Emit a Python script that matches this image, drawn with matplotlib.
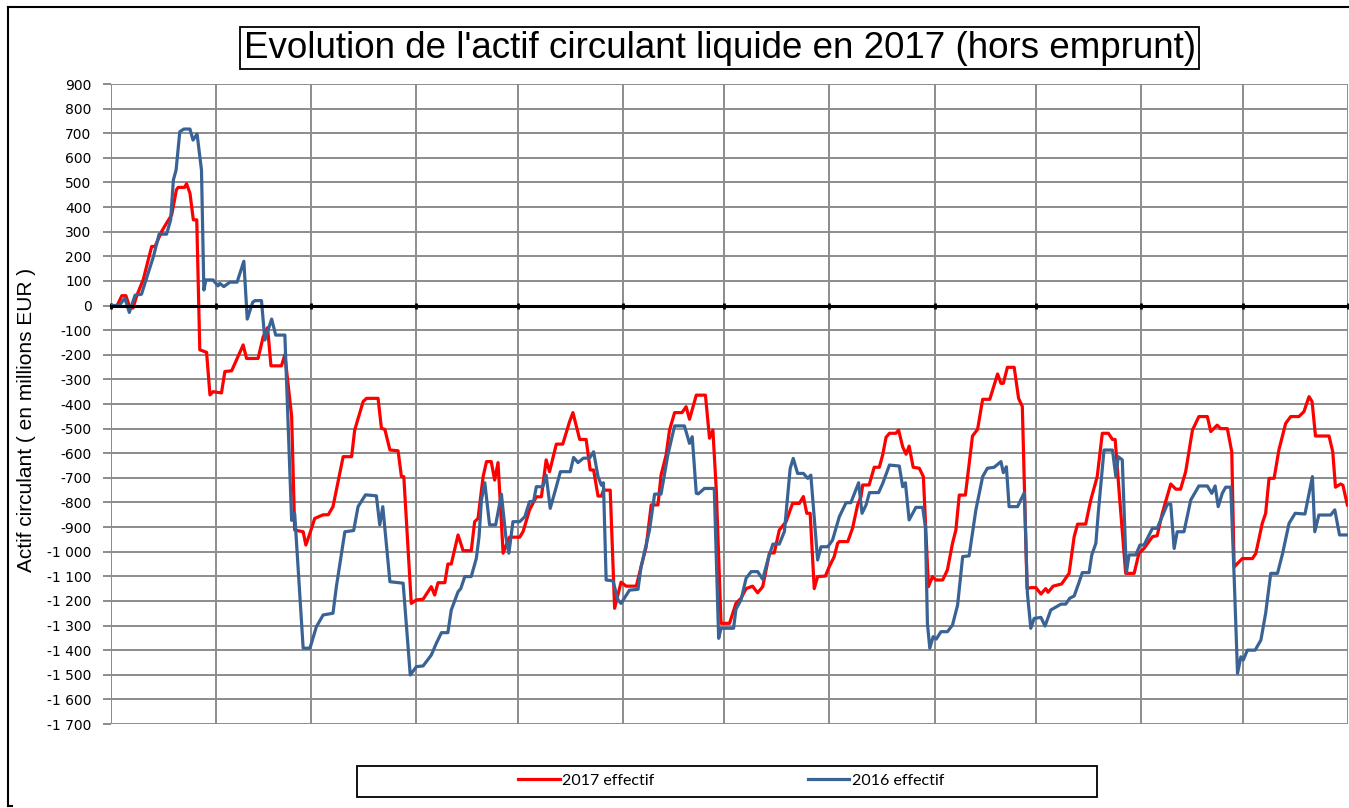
import matplotlib
matplotlib.use("Agg")
import matplotlib.pyplot as plt
from matplotlib.patches import Rectangle
from matplotlib.ticker import FuncFormatter

# ---- data (day of year, value in millions EUR) ----
red_day = [0, 1.8, 3.2, 4.4, 5.6, 6.5, 7.6, 9.5, 12.0, 13.0, 14.9, 16.4, 17.9, 19.3, 19.8, 21.7, 22.3, 23.3,
           24.3, 25.3, 26.2, 28.2, 29.2, 30.1, 32.6, 33.6, 35.6, 39.0, 40.0, 43.4, 44.9, 46.2, 47.2, 50.3,
           51.3, 53.3, 54.2, 56.7, 57.5, 58.7, 60.1, 62.6, 64.1, 65.5, 68.5, 71.0, 71.9, 74.4, 75.4, 78.8,
           79.8, 80.8, 82.3, 84.7, 85.7, 86.4, 88.6, 90.1, 92.1, 94.5, 95.5, 96.5, 98.5, 99.4, 100.4, 102.4,
           103.9, 106.3, 107.3, 108.3, 109.8, 110.8, 112.2, 113.2, 114.2, 115.7, 116.7, 117.6, 120.6, 121.6,
           123.5, 125.5, 127.0, 128.4, 129.4, 131.4, 133.3, 135.3, 136.3, 138.3, 140.2, 141.4, 142.4, 143.7,
           144.7, 145.3, 147.3, 148.6, 149.5, 150.5, 152.0, 155.0, 156.4, 157.9, 159.4, 161.4, 162.3, 163.8,
           164.8, 166.3, 168.5, 169.7, 170.7, 172.7, 175.4, 176.6, 177.6, 178.6, 180.0, 182.5, 184.4, 185.9,
           187.4, 189.3, 190.8, 192.3, 194.3, 195.7, 197.2, 199.2, 201.1, 203.1, 204.3, 205.3, 206.3, 207.5,
           208.5, 210.8, 211.9, 213.4, 214.4, 214.9, 217.4, 218.8, 220.3, 221.3, 221.8, 223.7, 225.2, 226.7,
           227.7, 228.7, 229.7, 231.6, 232.4, 233.6, 234.6, 235.5, 236.7, 238.5, 239.7, 241.2, 242.4, 243.4,
           245.4, 246.8, 248.3, 249.3, 250.3, 252.1, 254.2, 255.7, 257.2, 259.3, 261.6, 262.6, 263.3, 264.5,
           266.5, 267.8, 268.9, 270.3, 271.4, 272.9, 274.4, 275.8, 276.5, 278.0, 280.5, 282.7, 284.2, 285.2,
           287.6, 289.1, 291.0, 292.5, 294.3, 295.5, 296.3, 297.5, 299.4, 301.9, 303.3, 304.8, 307.3, 308.7,
           310.2, 312.7, 314.2, 315.6, 317.1, 319.1, 321.0, 323.5, 324.5, 326.4, 327.4, 329.4, 330.7, 331.4,
           333.8, 336.8, 337.8, 339.7, 340.7, 341.7, 343.2, 344.6, 346.6, 348.1, 350.5, 352.0, 353.5, 354.4,
           355.4, 359.4, 360.5, 361.3, 362.8, 363.5, 364.8]
red_val = [0, 0, 40, 40, -10, -10, 40, 105, 240, 240, 300, 335, 368, 470, 480, 480, 495, 456,
           348, 348, -180, -190, -363, -350, -355, -268, -265, -160, -215, -215, -127, -90, -245, -245,
           -200, -450, -912, -919, -973, -925, -865, -850, -850, -817, -614, -614, -506, -390, -377, -377,
           -499, -503, -587, -590, -695, -695, -1210, -1196, -1193, -1142, -1176, -1126, -1126, -1050, -1050, -932,
           -996, -996, -878, -865, -695, -634, -634, -709, -638, -1006, -970, -941, -941, -918,
           -830, -777, -777, -627, -675, -563, -563, -472, -435, -544, -544, -668, -668, -774,
           -774, -750, -750, -1230, -1180, -1124, -1140, -1140, -1062, -981, -810, -810, -689, -607,
           -506, -435, -435, -411, -462, -364, -364, -539, -506, -750, -1291, -1291, -1210, -1189,
           -1150, -1140, -1167, -1142, -1005, -1005, -912, -878, -804, -804, -776, -844, -844, -1150,
           -1101, -1099, -1062, -1020, -966, -959, -959, -905, -810, -777, -729, -729, -657, -657,
           -607, -535, -519, -519, -506, -574, -604, -571, -657, -661, -695, -1142, -1101, -1115,
           -1115, -1074, -966, -912, -770, -770, -530, -503, -381, -381, -278, -316, -316, -251,
           -251, -377, -410, -1150, -1146, -1146, -1172, -1150, -1165, -1140, -1131, -1088, -939, -888,
           -888, -790, -695, -519, -519, -544, -544, -763, -1088, -1088, -1007, -987, -939, -935,
           -844, -725, -746, -746, -675, -506, -451, -451, -512, -486, -500, -500, -594, -1062,
           -1028, -1028, -1007, -885, -844, -702, -702, -587, -479, -451, -451, -431, -370, -390,
           -530, -530, -594, -738, -725, -730, -810]

blue_day = [0, 2.4, 4.1, 5.4, 7.1, 9.0, 10.0, 12.5, 14.2, 16.4, 17.6, 18.4, 19.2, 20.3, 21.5, 23.3, 24.2,
            25.4, 26.7, 27.4, 28.0, 30.1, 31.6, 32.1, 33.3, 35.1, 37.2, 39.2, 40.2, 41.8, 42.5, 44.4, 45.4,
            47.4, 48.6, 51.3, 53.3, 54.2, 56.7, 58.7, 60.6, 62.6, 65.5, 66.5, 69.0, 71.6, 72.9, 75.1, 78.3,
            79.3, 80.2, 82.3, 86.2, 88.3, 90.1, 92.1, 94.5, 96.0, 97.5, 99.4, 100.4, 102.4, 103.2, 104.4,
            106.3, 107.8, 108.6, 109.3, 110.3, 111.7, 113.5, 115.2, 116.5, 117.4, 118.6, 120.6, 122.1, 123.5,
            124.7, 125.5, 127.4, 128.4, 129.6, 131.4, 132.6, 135.5, 136.5, 137.8, 139.4, 141.2, 142.4, 143.7,
            144.7, 145.3, 146.1, 148.1, 149.6, 150.5, 153.0, 155.5, 156.4, 158.9, 160.4, 162.3, 164.3, 166.3,
            169.2, 170.7, 171.5, 172.7, 173.3, 175.1, 178.0, 179.3, 180.0, 183.7, 184.4, 185.9, 187.4, 188.9,
            190.8, 192.3, 193.8, 195.3, 197.2, 198.7, 200.4, 201.3, 202.6, 204.3, 205.6, 206.5, 208.5, 209.5,
            211.5, 212.9, 214.9, 216.9, 218.3, 220.6, 221.6, 222.8, 223.8, 226.5, 227.7, 229.7, 232.6, 233.6,
            234.4, 235.5, 237.5, 239.5, 240.3, 240.9, 241.6, 242.6, 243.5, 244.9, 246.8, 248.3, 249.8, 251.3,
            253.2, 255.2, 257.2, 258.6, 260.6, 262.6, 263.3, 264.2, 265.0, 267.5, 269.5, 270.4, 271.4, 272.4,
            274.4, 275.6, 277.3, 280.3, 281.7, 282.9, 284.2, 285.7, 286.6, 288.6, 289.4, 290.6, 291.3, 293.0,
            295.5, 296.5, 297.2, 298.4, 299.6, 300.4, 302.4, 303.6, 304.8, 307.3, 308.7, 311.7, 312.7, 313.7,
            314.6, 316.6, 318.6, 321.0, 323.5, 324.8, 325.8, 326.7, 327.9, 328.9, 330.4, 331.4, 332.4, 333.4,
            334.1, 335.3, 337.6, 339.3, 340.7, 342.2, 344.2, 345.7, 347.6, 349.4, 352.3, 354.5, 355.2, 356.4,
            359.9, 361.1, 362.5, 365.0]
blue_val = [0, 0, 30, -28, 42, 46, 90, 198, 290, 290, 348, 510, 550, 706, 717, 717, 672,
            697, 550, 63, 104, 104, 80, 90, 77, 95, 95, 180, -55, 13, 20, 20, -140,
            -55, -120, -120, -873, -845, -1392, -1392, -1305, -1257, -1250, -1142, -919, -914, -817, -769, -773,
            -891, -817, -1122, -1128, -1501, -1467, -1464, -1420, -1372, -1329, -1329, -1237, -1163, -1150, -1101,
            -1101, -1027, -939, -790, -720, -891, -891, -766, -939, -1006, -878, -878, -858, -797,
            -795, -736, -736, -689, -824, -736, -675, -675, -617, -638, -620, -620, -594, -695,
            -730, -720, -1115, -1118, -1196, -1210, -1156, -1153, -1062, -912, -766, -766, -607, -489,
            -489, -560, -533, -763, -765, -743, -743, -1352, -1311, -1311, -1234, -1196, -1108, -1081,
            -1081, -1112, -1034, -969, -969, -918, -662, -621, -682, -682, -702, -689, -1034, -980,
            -980, -953, -858, -801, -801, -720, -844, -810, -760, -760, -723, -648, -652, -736,
            -720, -871, -820, -820, -900, -1291, -1392, -1345, -1355, -1325, -1325, -1298, -1217, -1020,
            -1017, -830, -695, -661, -657, -634, -679, -655, -817, -817, -760, -1169, -1311, -1271,
            -1267, -1302, -1237, -1213, -1213, -1189, -1180, -1122, -1085, -1085, -1013, -966, -844, -587,
            -587, -695, -614, -627, -1085, -1013, -1013, -973, -973, -905, -905, -807, -807, -987,
            -919, -919, -790, -733, -733, -763, -733, -817, -763, -738, -738, -1100, -1494, -1427,
            -1440, -1400, -1400, -1359, -1250, -1088, -1088, -1007, -885, -844, -847, -695, -919, -851,
            -851, -830, -932, -932]

month_edges = [0, 31, 59, 90, 120, 151, 181, 212, 243, 273, 304, 334, 365]
y_ticks = list(range(-1700, 901, 100))

title = "Evolution de l'actif circulant liquide en 2017 (hors emprunt)"
y_label = "Actif circulant ( en millions EUR )"
labels = ["2017 effectif", "2016 effectif"]
colors = ["#FF0000", "#3A6395"]

# ---- figure ----
W, H = 1349, 808
fig = plt.figure(figsize=(W / 100, H / 100), dpi=100)
fig.patch.set_facecolor("white")

# outer frame (left, top, bottom)
fig.add_artist(plt.Line2D([7.5 / W, 7.5 / W], [1 - 6.5 / H, 1 - 806 / H], color="black", lw=1.5,
                          transform=fig.transFigure))
fig.add_artist(plt.Line2D([7.5 / W, 1.0], [1 - 6.5 / H, 1 - 6.5 / H], color="black", lw=1.5,
                          transform=fig.transFigure))
fig.add_artist(plt.Line2D([7.5 / W, 12 / W], [1 - 806 / H, 1 - 806 / H], color="black", lw=1.5,
                          transform=fig.transFigure))

ax = fig.add_axes([111 / W, 1 - 724 / H, 1237 / W, 640 / H])
ax.set_xlim(0, 365)
ax.set_ylim(-1700, 900)

ax.set_xticks(month_edges)
ax.set_xticklabels([])
ax.set_yticks(y_ticks)


def fmt(v, pos):
    v = int(round(v))
    s = f"{abs(v):,}".replace(",", " ")
    return ("-" if v < 0 else "") + s


ax.yaxis.set_major_formatter(FuncFormatter(fmt))
ax.grid(True, color="#8C8C8C", lw=1.4)
ax.set_axisbelow(True)
for s in ["top", "right", "left"]:
    ax.spines[s].set_visible(False)
ax.spines["bottom"].set_position(("data", 0))
ax.spines["bottom"].set_color("black")
ax.spines["bottom"].set_linewidth(2.2)
ax.spines["bottom"].set_zorder(5)
ax.tick_params(axis="x", direction="inout", length=4, width=2, color="black")
ax.tick_params(axis="y", direction="out", length=6, width=1.4, color="#8C8C8C",
               labelsize=10, pad=8)
for lbl in ax.get_yticklabels():
    lbl.set_fontfamily("DejaVu Sans")
ax.axvline(0, color="#8C8C8C", lw=1.4, zorder=0.5)

l1, = ax.plot(red_day, red_val, color=colors[0], lw=2.3, solid_joinstyle="round", zorder=3)
l2, = ax.plot(blue_day, blue_val, color=colors[1], lw=2.3, solid_joinstyle="round", zorder=4)

# y label
fig.text(27 / W, 1 - 420 / H, y_label, rotation=90, ha="center", va="center",
         fontsize=15, family="Liberation Sans")

# title with box
fig.text(719.5 / W, 1 - 48 / H, title, ha="center", va="center", fontsize=26.5,
         family="Liberation Sans",
         bbox=dict(boxstyle="square,pad=0.1", facecolor="white", edgecolor="black", lw=1.3))

# legend box
fig.add_artist(Rectangle((357 / W, 1 - 797 / H), 740 / W, 31 / H, transform=fig.transFigure,
                         facecolor="white", edgecolor="black", lw=1.3))
leg = fig.legend([l1, l2], labels, loc="center", bbox_to_anchor=(731 / W, 1 - 781 / H),
                 ncol=2, frameon=False, handlelength=2.6, handletextpad=0.15,
                 columnspacing=9.6, prop={"family": "Lato", "size": 11.5})

fig.savefig("out.png", dpi=100, facecolor="white")
